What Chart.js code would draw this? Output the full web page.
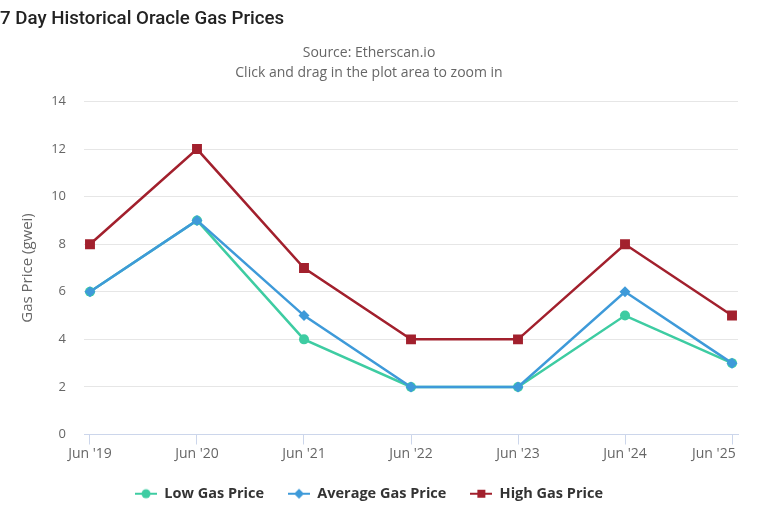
<!DOCTYPE html>
<html>
<head>
<meta charset="utf-8">
<script src="https://cdn.jsdelivr.net/npm/chart.js@4.4.1/dist/chart.umd.min.js"></script>
<style>
  html, body { margin: 0; padding: 0; background: #fff; }
  #wrap { width: 766px; height: 532px; position: relative; }
</style>
</head>
<body>
<div id="wrap"><canvas id="gas"></canvas></div>
<script>
// data
var labels = ['Jun \'19', 'Jun \'20', 'Jun \'21', 'Jun \'22', 'Jun \'23', 'Jun \'24', 'Jun \'25'];
var lowGas = [6, 9, 4, 2, 2, 5, 3];
var avgGas = [6, 9, 5, 2, 2, 6, 3];
var highGas = [8, 12, 7, 4, 4, 8, 5];
var yTicks = [0, 2, 4, 6, 8, 10, 12, 14];

var colors = {
    low: '#3ecca2',
    avg: '#3e9ad9',
    high: '#a2202d'
};

function pts(arr) {
    return arr.map(function(v, i) { return {x: i, y: v}; });
}

// little legend symbol: line with marker in the middle
function symbol(color, shape) {
    var c = document.createElement('canvas');
    c.width = 22; c.height = 12;
    var g = c.getContext('2d');
    g.strokeStyle = color;
    g.fillStyle = color;
    g.lineWidth = 2;
    g.beginPath();
    g.moveTo(0, 6); g.lineTo(22, 6);
    g.stroke();
    g.beginPath();
    if (shape === 'circle') {
        g.arc(11, 6, 4.5, 0, Math.PI * 2);
    } else if (shape === 'diamond') {
        g.moveTo(11, 1); g.lineTo(16, 6); g.lineTo(11, 11); g.lineTo(6, 6); g.closePath();
    } else {
        g.rect(7, 2, 8, 8);
    }
    g.fill();
    return c;
}

var legendSymbols = [
    symbol(colors.low, 'circle'),
    symbol(colors.avg, 'diamond'),
    symbol(colors.high, 'square')
];

var ctx = document.getElementById('gas').getContext('2d');
var chart = new Chart(ctx, {
    type: 'line',
    data: {
        datasets: [{
            label: 'Low Gas Price',
            data: pts(lowGas),
            order: 3,
            borderColor: colors.low,
            backgroundColor: colors.low,
            borderWidth: 2.5,
            pointStyle: 'circle',
            pointRadius: 5,
            pointBorderWidth: 0
        }, {
            label: 'Average Gas Price',
            data: pts(avgGas),
            order: 2,
            borderColor: colors.avg,
            backgroundColor: colors.avg,
            borderWidth: 2.5,
            pointStyle: 'rectRot',
            pointRadius: 5.5,
            pointBorderWidth: 0
        }, {
            label: 'High Gas Price',
            data: pts(highGas),
            order: 1,
            borderColor: colors.high,
            backgroundColor: colors.high,
            borderWidth: 2.5,
            pointStyle: 'rect',
            pointRadius: 7,
            pointBorderWidth: 0
        }]
    },
    options: {
        responsive: true,
        maintainAspectRatio: false,
        animation: false,
        layout: { padding: { left: 0, right: 28, top: 0, bottom: 21 } },
        plugins: {
            title: {
                display: true,
                text: '7 Day Historical Oracle Gas Prices',
                align: 'start',
                color: '#222',
                font: { family: 'Roboto', size: 18.7, weight: '500' },
                padding: { top: 8, bottom: 0 }
            },
            subtitle: {
                display: true,
                text: ['Source: Etherscan.io', 'Click and drag in the plot area to zoom in'],
                color: '#666',
                font: { family: 'Open Sans', size: 14, lineHeight: 1.43 },
                padding: { top: 13, bottom: 18 }
            },
            legend: {
                position: 'bottom',
                labels: {
                    usePointStyle: true,
                    pointStyleWidth: 22,
                    color: '#333',
                    font: { family: 'Open Sans', size: 14.5, weight: 'bold' },
                    padding: 24,
                    generateLabels: function(ch) {
                        return ch.data.datasets.map(function(ds, i) {
                            return {
                                text: ds.label,
                                pointStyle: legendSymbols[i],
                                fillStyle: ds.backgroundColor,
                                strokeStyle: ds.borderColor,
                                lineWidth: 0,
                                hidden: !ch.isDatasetVisible(i),
                                datasetIndex: i,
                                fontColor: '#333'
                            };
                        });
                    }
                }
            },
            tooltip: { enabled: false }
        },
        scales: {
            x: {
                type: 'linear',
                min: -0.056,
                max: 6.056,
                afterBuildTicks: function(axis) {
                    axis.ticks = labels.map(function(l, i) { return {value: i}; });
                },
                afterFit: function(axis) {
                    axis.height = 28;
                    axis.paddingLeft = 0;
                    axis.paddingRight = 0;
                },
                ticks: {
                    color: '#666',
                    font: { family: 'Open Sans', size: 14 },
                    padding: 1,
                    maxRotation: 0,
                    autoSkip: false,
                    callback: function(v) {
                        // last label is pulled inside the plot edge, like the original
                        if (v === labels.length - 1) return labels[v] + '          ';
                        return labels[v];
                    }
                },
                grid: {
                    drawOnChartArea: false,
                    drawTicks: true,
                    tickLength: 10,
                    color: '#ccd6eb'
                },
                border: { color: '#ccd6eb', width: 1 }
            },
            y: {
                min: 0,
                max: 14,
                afterBuildTicks: function(axis) {
                    axis.ticks = yTicks.map(function(v) { return {value: v}; });
                },
                afterFit: function(axis) { axis.width = 84; },
                ticks: {
                    color: '#666',
                    font: { family: 'Open Sans', size: 13 },
                    padding: 18
                },
                grid: { color: '#e6e6e6', drawTicks: false },
                border: { display: false },
                title: {
                    display: true,
                    text: 'Gas Price (gwei)',
                    color: '#666',
                    font: { family: 'Open Sans', size: 15 },
                    padding: { top: 19, bottom: 0 }
                }
            }
        }
    }
});
</script>
</body>
</html>
